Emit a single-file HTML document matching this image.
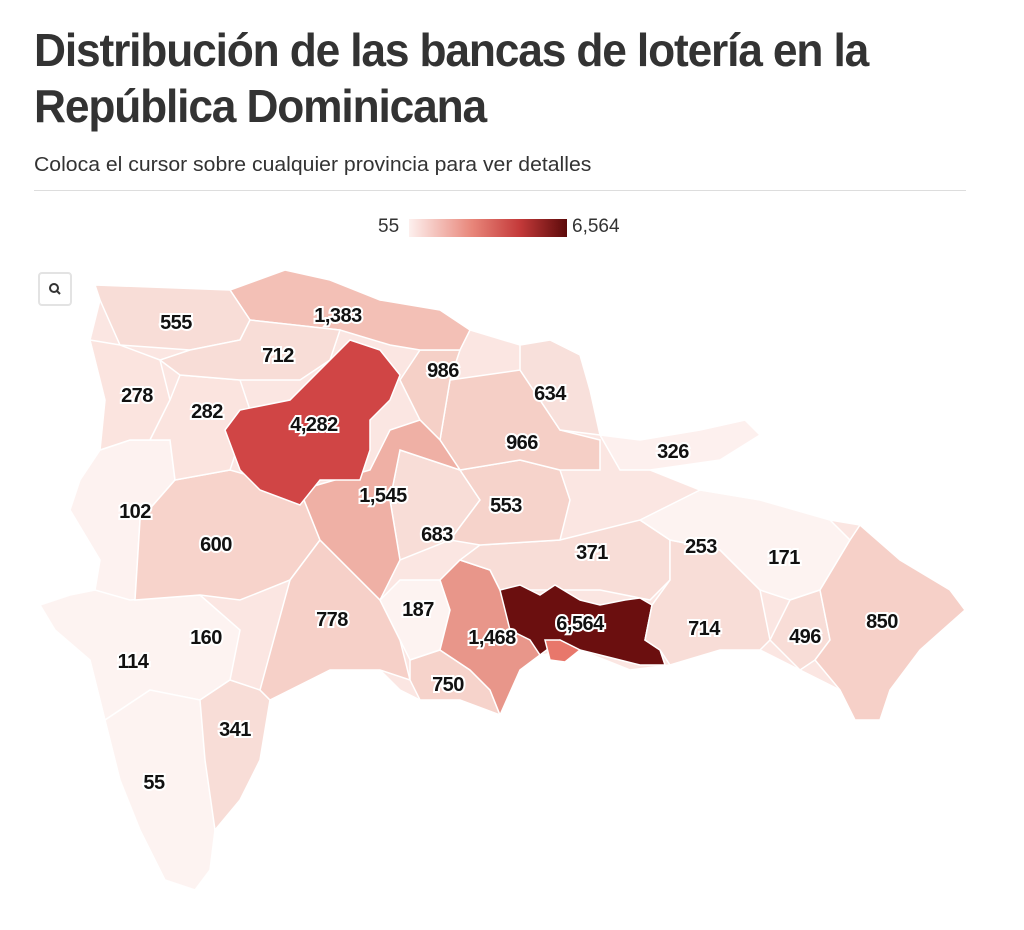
<!DOCTYPE html>
<html><head><meta charset="utf-8"><style>
body{margin:0;background:#fff;width:1024px;height:930px;overflow:hidden;font-family:"Liberation Sans",sans-serif}
h1{position:absolute;left:34px;top:22px;margin:0;font-size:46px;line-height:56px;font-weight:bold;color:#333;font-stretch:condensed;letter-spacing:-1.2px;transform:scaleX(.963);transform-origin:left top;width:1000px}
.sub{position:absolute;left:34px;top:154px;font-size:20px;color:#333;transform:scaleX(1.06);transform-origin:left top;white-space:nowrap}
.rule{position:absolute;left:34px;top:190px;width:932px;height:1px;background:#ddd}
.lg{position:absolute;top:216px;font-size:19px;color:#333}
.bar{position:absolute;left:409px;top:219px;width:158px;height:18px;background:linear-gradient(90deg,#fdf0ee,#e8867a 40%,#c43a3a 70%,#5c0a0a)}
.btn{position:absolute;left:38px;top:272px;width:34px;height:34px;border:2px solid #e3e3e3;border-radius:4px;box-sizing:border-box;background:#fff}
svg text{font-family:"Liberation Sans",sans-serif;font-weight:bold;font-size:20px;fill:#111;stroke:#fff;stroke-width:4px;paint-order:stroke;text-anchor:middle;letter-spacing:-.5px}
</style></head><body>
<h1>Distribución de las bancas de lotería en la República Dominicana</h1>
<div class="sub">Coloca el cursor sobre cualquier provincia para ver detalles</div>
<div class="rule"></div>
<div class="lg" style="left:378px">55</div><div class="bar"></div><div class="lg" style="left:572px">6,564</div>
<div class="btn"><svg width="30" height="30"><circle cx="14" cy="14" r="4" fill="none" stroke="#333" stroke-width="2"/><line x1="17" y1="17" x2="20" y2="20" stroke="#333" stroke-width="2"/></svg></div>
<svg width="1024" height="930" style="position:absolute;left:0;top:0" stroke="#fff" stroke-width="1.5">
<polygon fill="#fbe6e2" points="95,285 230,290 285,270 330,280 380,300 440,310 470,330 520,345 550,340 580,355 590,390 600,435 640,440 700,430 745,420 760,435 720,460 650,470 700,490 760,500 830,520 860,525 900,560 950,590 965,610 920,650 890,690 880,720 855,720 840,690 800,670 760,650 720,650 670,665 630,670 580,650 540,655 520,670 500,715 460,700 420,700 400,690 380,670 330,670 290,690 270,700 260,760 240,800 215,830 210,870 195,890 165,880 140,830 120,780 105,720 90,660 55,630 40,605 70,595 95,590 100,560 70,510 80,480 100,450 105,400 90,340 100,300"/>
<polygon fill="#fdf2f0" points="95,590 100,560 70,510 80,480 100,450 130,440 170,440 175,480 140,520 135,600 110,620 95,610"/>
<polygon fill="#fdf3f1" points="55,630 40,605 70,595 95,590 130,600 200,595 240,630 230,680 200,700 150,690 105,720 90,660"/>
<polygon fill="#fdf3f1" points="105,720 150,690 200,700 230,680 250,750 240,800 215,830 210,870 195,890 165,880 140,830 120,780"/>
<polygon fill="#f8ddd7" points="200,700 230,680 260,690 270,700 260,760 240,800 215,830 205,760"/>
<polygon fill="#f7d3cb" points="140,520 175,480 230,470 300,490 320,540 290,580 240,600 200,595 135,600"/>
<polygon fill="#f6d0c8" points="290,580 320,540 340,560 380,600 400,640 410,680 380,670 330,670 290,690 270,700 260,690"/>
<polygon fill="#fdf3f1" points="380,600 400,580 440,580 450,610 440,650 410,660 400,640"/>
<polygon fill="#f6d3cb" points="410,660 440,650 470,670 490,690 500,715 460,700 420,700 410,680"/>
<polygon fill="#e8968a" points="440,580 460,560 490,570 500,590 520,620 540,655 520,670 500,715 490,690 470,670 440,650 450,610"/>
<polygon fill="#f8ddd7" points="460,560 480,545 560,540 600,530 640,520 670,540 670,580 650,600 600,590 550,590 500,590 490,570"/>
<polygon fill="#6b0f0f" points="500,590 520,585 540,595 555,585 580,600 600,605 625,600 640,598 652,605 645,640 660,650 665,665 640,665 620,660 580,650 560,640 540,655 530,640 510,630"/>
<polygon fill="#e8776b" points="545,640 560,640 580,650 565,662 550,660"/>
<polygon fill="#f8ddd7" points="670,540 720,550 760,590 770,640 760,650 720,650 670,665 660,650 645,640 652,605 670,580"/>
<polygon fill="#fdf3f1" points="640,520 700,490 760,500 830,520 850,540 820,590 790,600 760,590 720,550 670,540"/>
<polygon fill="#f8ddd7" points="790,600 820,590 830,640 815,660 800,670 770,640"/>
<polygon fill="#f6d0c8" points="820,590 850,540 860,525 900,560 950,590 965,610 920,650 890,690 880,720 855,720 840,690 815,660 830,640"/>
<polygon fill="#fdf0ee" points="600,435 640,440 700,430 745,420 760,435 720,460 650,470 620,470"/>
<polygon fill="#f8ddd7" points="400,450 460,470 480,500 450,540 400,560 390,500"/>
<polygon fill="#f6d3cb" points="460,470 520,460 560,470 570,500 560,540 480,545 450,540 480,500"/>
<polygon fill="#f5cfc6" points="450,380 520,370 560,430 600,440 600,470 560,470 520,460 460,470 440,440"/>
<polygon fill="#f8e0db" points="520,345 550,340 580,355 590,390 600,435 560,430 520,370"/>
<polygon fill="#f5d0c7" points="400,380 420,350 460,350 450,380 440,440 420,420"/>
<polygon fill="#f3c0b6" points="230,290 285,270 330,280 380,300 440,310 470,330 460,350 420,350 390,345 340,330 250,320"/>
<polygon fill="#f8ddd7" points="95,285 230,290 250,320 240,340 190,350 120,345 100,300"/>
<polygon fill="#fbe4df" points="90,340 120,345 160,360 170,400 150,440 130,440 100,450 105,400"/>
<polygon fill="#fbe4df" points="170,400 180,375 240,380 250,410 230,470 175,480 170,440 150,440"/>
<polygon fill="#f8ddd7" points="240,340 250,320 340,330 330,360 300,380 240,380 180,375 160,360 190,350"/>
<polygon fill="#efb0a5" points="300,490 370,470 390,430 420,420 440,440 460,470 400,450 390,500 400,560 380,600 340,560 320,540"/>
<polygon fill="#d04545" points="330,360 350,340 380,350 400,375 390,400 370,420 370,450 360,480 320,480 300,505 260,490 240,470 225,430 240,410 290,400"/>
<g stroke="none">
<text x="176" y="329">555</text><text x="338" y="322">1,383</text><text x="278" y="362">712</text>
<text x="443" y="377">986</text><text x="550" y="400">634</text><text x="137" y="402">278</text>
<text x="207" y="418">282</text><text x="314" y="431">4,282</text><text x="522" y="449">966</text>
<text x="673" y="458">326</text><text x="383" y="502">1,545</text><text x="506" y="512">553</text>
<text x="135" y="518">102</text><text x="216" y="551">600</text><text x="437" y="541">683</text>
<text x="592" y="559">371</text><text x="701" y="553">253</text><text x="784" y="564">171</text>
<text x="418" y="616">187</text><text x="332" y="626">778</text><text x="580" y="630">6,564</text>
<text x="704" y="635">714</text><text x="882" y="628">850</text><text x="206" y="644">160</text>
<text x="492" y="644">1,468</text><text x="805" y="643">496</text><text x="133" y="668">114</text>
<text x="448" y="691">750</text><text x="235" y="736">341</text><text x="154" y="789">55</text>
</g></svg>
</body></html>
